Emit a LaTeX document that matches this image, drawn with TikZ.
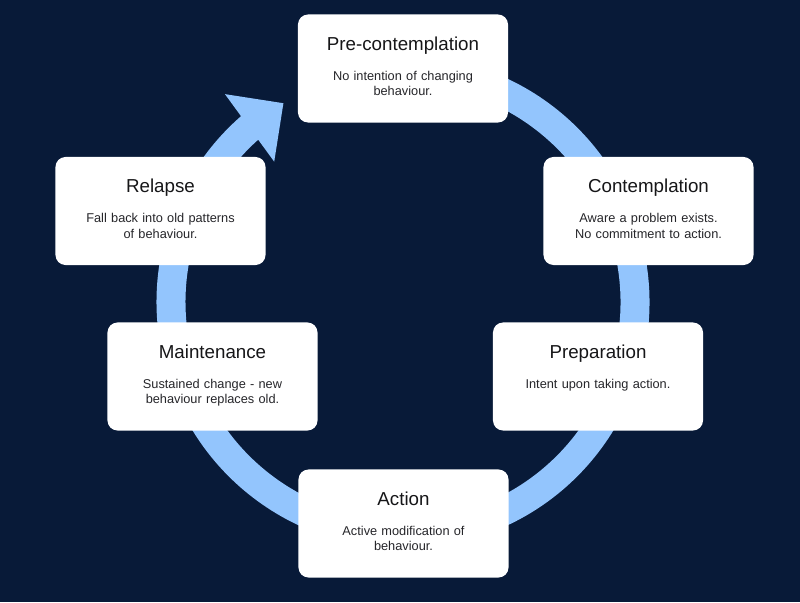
\documentclass[tikz,border=0pt]{standalone}
\usepackage{fontspec}
\setmainfont{Liberation Sans}
\usepackage{tikz}
\usetikzlibrary{arrows.meta, bending, calc, positioning}
\definecolor{navybg}{RGB}{8, 26, 56}
\definecolor{ringblue}{RGB}{147, 197, 253}
\definecolor{inkdark}{RGB}{22, 22, 24}
\definecolor{inkbody}{RGB}{38, 38, 42}

\begin{document}
\begin{tikzpicture}[x=0.03cm, y=0.03cm,
    stage/.style={rectangle, fill=white, rounded corners=0.3cm, minimum width=6.3cm, minimum height=3.24cm, inner sep=0pt},
    heading/.style={anchor=base, inner sep=0pt, text=inkdark, font=\fontsize{16}{18}\selectfont},
    blurb/.style={anchor=base, inner sep=0pt, text width=6cm, align=center, text=inkbody, font=\fontsize{10.9}{13.2}\selectfont},
    ring/.style={draw=ringblue, line width=0.87cm, -{Triangle[width=2.43cm, length=1.26cm]}}]

    \fill[navybg] (0,0) rectangle (800,602);
    \coordinate (hub) at (403,300);
    \draw[ring] (hub) ++(100:232) arc[start angle=100, end angle=-239, radius=232];

    \node [stage] (pre) at (403,533.5) {};
    \node [heading] (pre-title) at ($(pre.north)+(0,-36)$) {Pre-contemplation};
    \node [blurb] (pre-text) at ($(pre.north)+(0,-66)$) {No intention of changing\\behaviour.};

    \node [stage] (contemp) at (648.5,391) {};
    \node [heading] (contemp-title) at ($(contemp.north)+(0,-36)$) {Contemplation};
    \node [blurb] (contemp-text) at ($(contemp.north)+(0,-66)$) {Aware a problem exists.\\No commitment to action.};

    \node [stage] (prep) at (598,225.5) {};
    \node [heading] (prep-title) at ($(prep.north)+(0,-36)$) {Preparation};
    \node [blurb] (prep-text) at ($(prep.north)+(0,-66)$) {Intent upon taking action.};

    \node [stage] (action) at (403.5,78.5) {};
    \node [heading] (action-title) at ($(action.north)+(0,-36)$) {Action};
    \node [blurb] (action-text) at ($(action.north)+(0,-66)$) {Active modification of\\behaviour.};

    \node [stage] (maint) at (212.5,225.5) {};
    \node [heading] (maint-title) at ($(maint.north)+(0,-36)$) {Maintenance};
    \node [blurb] (maint-text) at ($(maint.north)+(0,-66)$) {Sustained change - new\\behaviour replaces old.};

    \node [stage] (relapse) at (160.5,391) {};
    \node [heading] (relapse-title) at ($(relapse.north)+(0,-36)$) {Relapse};
    \node [blurb] (relapse-text) at ($(relapse.north)+(0,-66)$) {Fall back into old patterns\\of behaviour.};
\end{tikzpicture}
\end{document}
